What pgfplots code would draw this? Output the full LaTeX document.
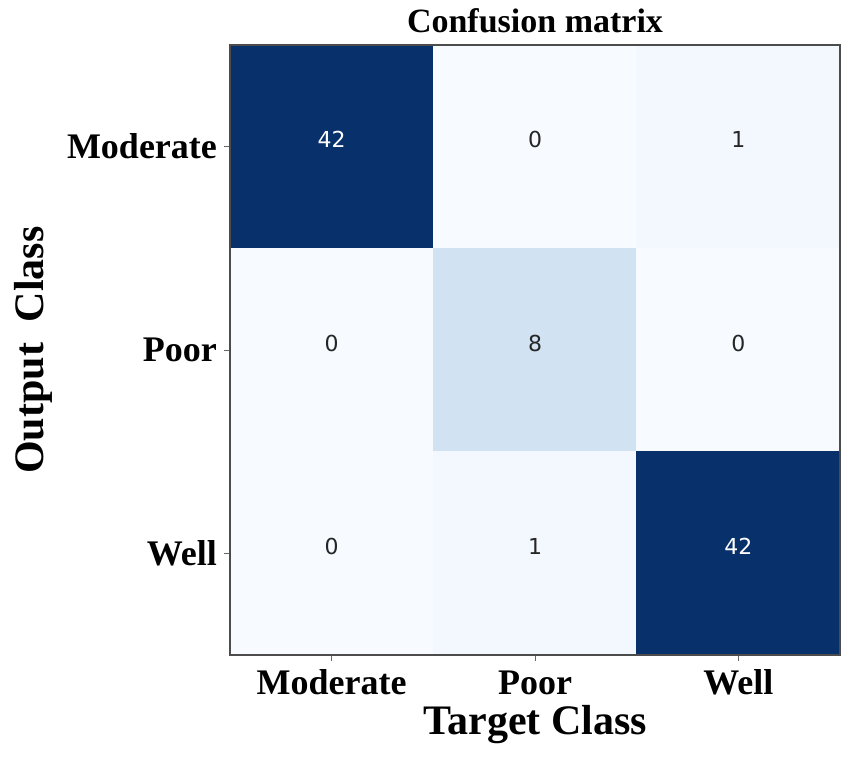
\documentclass[border=0pt]{standalone}
\usepackage{fontspec}
\setmainfont{Liberation Serif}
\newfontfamily\dejavu{DejaVu Sans}
\usepackage{pgfplots}
\pgfplotsset{compat=1.18}

% matplotlib "Blues"
\pgfplotsset{colormap={blues}{
  rgb255=(247,251,255) rgb255=(222,235,247) rgb255=(198,219,239)
  rgb255=(158,202,225) rgb255=(107,174,214) rgb255=(66,146,198)
  rgb255=(33,113,181) rgb255=(8,81,156) rgb255=(8,48,107)}}

\begin{document}
\begin{tikzpicture}
\begin{axis}[
    name=ax,
    width=305pt, height=305pt, scale only axis,
    axis on top,
    colormap name=blues,
    point meta min=0, point meta max=42,
    xmin=-0.5, xmax=2.5, ymin=-0.5, ymax=2.5,
    y dir=reverse,
    xtick={0,1,2}, ytick={0,1,2},
    xticklabels={Moderate,Poor,Well},
    yticklabels={Moderate,Poor,Well},
    tick align=outside, tick pos=left,
    major tick length=3pt,
    tick style={black!60, line width=0.5pt},
    axis line style={black!70, line width=0.6pt},
    ticklabel style={font=\fontsize{18}{20}\selectfont\bfseries},
    xticklabel style={anchor=base, yshift=-16.5pt},
    yticklabel style={anchor=east},
    title={Confusion matrix},
    title style={at={(axis description cs:0.5,1)}, anchor=base,
        font=\fontsize{17}{19}\selectfont\bfseries},
    xlabel={Target Class},
    xlabel style={at={(axis description cs:0.5,-0.1295)}, anchor=base,
        font=\fontsize{21}{24}\selectfont\bfseries},
    ylabel={Output\hspace{0.5em}Class},
    ylabel style={at={(axis description cs:-0.305,0.5)}, anchor=base,
        font=\fontsize{21}{24}\selectfont\bfseries},
]
\addplot[matrix plot*, mesh/cols=3, point meta=explicit] table[meta=c] {
x y c
0 0 42
1 0 0
2 0 1
0 1 0
1 1 8
2 1 0
0 2 0
1 2 1
2 2 42
};
% cell values, dark text
\addplot[draw=none, mark=none, nodes near coords, point meta=explicit symbolic,
    nodes near coords align={center},
    every node near coord/.append style={font=\dejavu\fontsize{11}{12}\selectfont, text=black!85, yshift=3.5pt}]
  coordinates {(1,0)[0] (2,0)[1] (0,1)[0] (1,1)[8] (2,1)[0] (0,2)[0] (1,2)[1]};
% cell values, white text
\addplot[draw=none, mark=none, nodes near coords, point meta=explicit symbolic,
    nodes near coords align={center},
    every node near coord/.append style={font=\dejavu\fontsize{11}{12}\selectfont, text=white, yshift=3.5pt}]
  coordinates {(0,0)[42] (2,2)[42]};
\end{axis}
\pgfresetboundingbox
\path ([shift={(-115pt,-52pt)}]ax.south west) rectangle ([shift={(5.5pt,22.5pt)}]ax.north east);
\end{tikzpicture}
\end{document}
